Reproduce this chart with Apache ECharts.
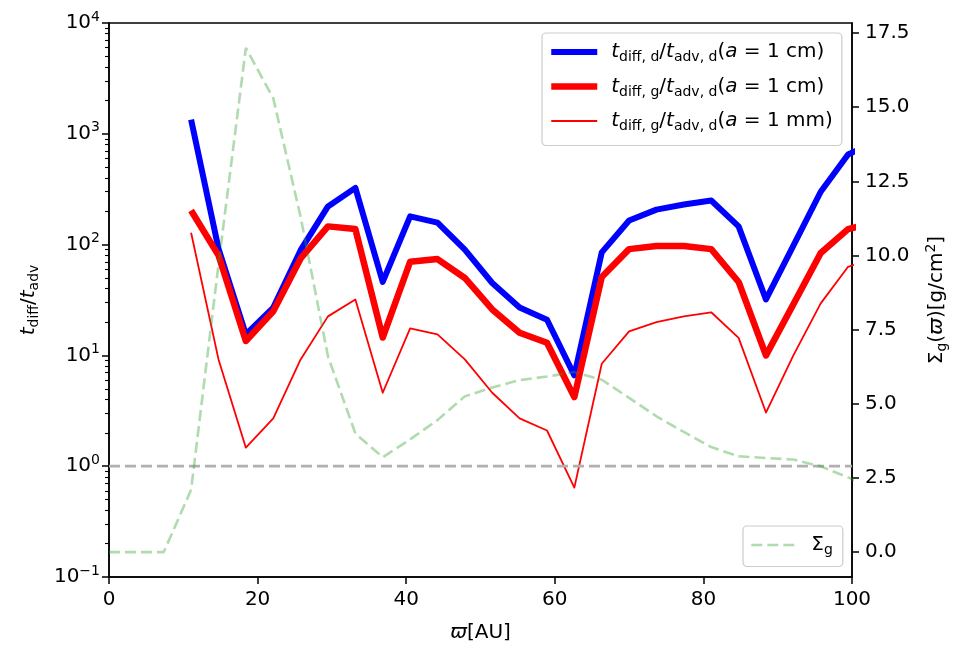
<!DOCTYPE html>
<html>
<head>
<meta charset="utf-8">
<script src="https://cdn.jsdelivr.net/npm/echarts@6/dist/echarts.min.js"></script>
<style>
    html, body { margin: 0; padding: 0; background: #fff; }
    #chart { width: 967px; height: 657px; }
</style>
</head>
<body>
<div id="chart"></div>
<script>
// radial grid [AU]
const radius = [0, 3.68, 7.37, 11.05, 14.74, 18.42, 22.11, 25.79, 29.47, 33.16, 36.84, 40.53, 44.21, 47.89,
    51.58, 55.26, 58.95, 62.63, 66.32, 70.0, 73.68, 77.37, 81.05, 84.74, 88.42, 92.11, 95.79, 99.47, 103.16];

// time-scale ratios start at radius[3]
const ratioDustCm = [1340, 92, 15.5, 27, 89, 221, 325, 46, 180, 158, 90, 45, 27, 21, 6.6,
    85, 165, 207, 230, 250, 146, 32, 98, 300, 650, 850];
const ratioGasCm = [203, 80, 13.5, 25, 75, 146, 138, 14.5, 70, 74, 50, 26, 16, 13, 4.2,
    51, 91, 97, 97, 91, 46, 10, 29, 84, 138, 160];
const ratioGasMm = [128, 9.2, 1.47, 2.7, 9.2, 22.5, 32, 4.6, 17.5, 15.5, 9.2, 4.6, 2.7, 2.1, 0.64,
    8.4, 16.5, 20, 22.5, 24.5, 14.4, 3.05, 10, 29.5, 63, 76];

// gas surface density [g/cm^2]
const sigmaGas = [0, 0, 0, 2.1, 9.7, 17.0, 15.3, 11.3, 6.6, 4.0, 3.2, 3.8, 4.45, 5.25, 5.55, 5.8, 5.92,
    6.07, 5.81, 5.2, 4.58, 4.05, 3.54, 3.23, 3.17, 3.12, 2.89, 2.52, 2.1];

// unity reference line
const unityX = [0, 100];
const unityY = [1, 1];

const xTicks = [0, 20, 40, 60, 80, 100];
const logTicks = [0.1, 1, 10, 100, 1000, 10000];
const logMinorTicks = [];
logTicks.slice(0, -1).forEach((d) => {
    for (let m = 2; m <= 9; m++) logMinorTicks.push(+(d * m).toPrecision(3));
});
const sigmaTicks = [0, 2.5, 5, 7.5, 10, 12.5, 15, 17.5];

const FONT = 'DejaVu Sans';
const SIZE = 20;

const rich = {
    n: { fontFamily: FONT, fontSize: SIZE, color: '#000' },
    it: { fontFamily: FONT, fontSize: SIZE, fontStyle: 'italic', color: '#000' },
    sub: { fontFamily: FONT, fontSize: 14, color: '#000', padding: [11, 0, 0, 0] },
    sup: { fontFamily: FONT, fontSize: 14, color: '#000', padding: [0, 0, 12, 0] },
    gap: { width: 9 },
    gapS: { width: 12 },
};

const legendLabels = {
    dustCm: '{gap|}{it|t}{sub|diff, d}{n|/}{it|t}{sub|adv, d}{n|(}{it|a}{n| = 1 cm)}',
    gasCm: '{gap|}{it|t}{sub|diff, g}{n|/}{it|t}{sub|adv, d}{n|(}{it|a}{n| = 1 cm)}',
    gasMm: '{gap|}{it|t}{sub|diff, g}{n|/}{it|t}{sub|adv, d}{n|(}{it|a}{n| = 1 mm)}',
    sigma: '{gapS|}{n|Σ}{sub|g}',
};

const pairs = (xs, ys) => ys.map((y, i) => [xs[i], y]);
const tRadius = radius.slice(3);

const lineBase = { join: 'round', cap: 'butt' };

const legendBox = {
    backgroundColor: 'rgba(255,255,255,0.8)',
    borderColor: '#cccccc',
    borderWidth: 1.2,
    borderRadius: 4,
    itemStyle: { opacity: 0 },
    selectedMode: false,
    formatter: (name) => legendLabels[name],
    textStyle: { rich },
};

const chartOptions = {
    animation: false,
    backgroundColor: '#fff',
    grid: {
        left: 109,
        right: 115,
        top: 23,
        bottom: 80,
        show: true,
        borderColor: '#000',
        borderWidth: 1.5,
        backgroundColor: 'transparent',
        outerBoundsMode: 'none',
    },
    legend: [
        {
            ...legendBox,
            data: ['dustCm', 'gasCm', 'gasMm'],
            orient: 'vertical',
            left: 542,
            top: 33,
            itemWidth: 46,
            itemHeight: 22,
            itemGap: 12,
            padding: [9, 9, 12, 6],
            lineStyle: { width: 'inherit', opacity: 1 },
        },
        {
            ...legendBox,
            data: ['sigma'],
            left: 743,
            top: 526,
            itemWidth: 43,
            itemHeight: 22,
            padding: [9, 10, 9, 7],
            lineStyle: { width: 'inherit', type: 'inherit', opacity: 1 },
        },
    ],
    xAxis: {
        type: 'value',
        min: 0,
        max: 100,
        interval: 20,
        axisLine: { onZero: false, lineStyle: { color: '#000', width: 1.5 } },
        axisTick: { length: 7, lineStyle: { color: '#000', width: 1.5 } },
        axisLabel: { fontFamily: FONT, fontSize: SIZE, color: '#000', margin: 13 },
        splitLine: { show: false },
        name: '{it|ϖ}{n|[AU]}',
        nameLocation: 'middle',
        nameGap: 46,
        nameTextStyle: { rich },
    },
    yAxis: [
        {
            type: 'log',
            logBase: 10,
            min: 0.1,
            max: 10000,
            position: 'left',
            axisLine: { show: true, lineStyle: { color: '#000', width: 1.5 } },
            axisTick: { customValues: logTicks, length: 7, lineStyle: { color: '#000', width: 1.5 } },
            axisLabel: {
                customValues: logTicks,
                margin: 9,
                formatter: (v) => {
                    const e = Math.round(Math.log10(v));
                    return '{n|10}{sup|' + (e < 0 ? '\u2212' + (-e) : e) + '}';
                },
                rich,
            },
            splitLine: { show: false },
            name: '{it|t}{sub|diff}{n|/}{it|t}{sub|adv}',
            nameLocation: 'middle',
            nameRotate: 90,
            nameGap: 68,
            nameTextStyle: { rich },
        },
        {
            type: 'value',
            min: -0.84,
            max: 17.84,
            position: 'right',
            axisLine: { show: true, lineStyle: { color: '#000', width: 1.5 } },
            axisTick: { customValues: sigmaTicks, length: 7, lineStyle: { color: '#000', width: 1.5 } },
            axisLabel: {
                customValues: sigmaTicks,
                margin: 13,
                fontFamily: FONT,
                fontSize: SIZE,
                color: '#000',
                formatter: (v) => v.toFixed(1),
            },
            splitLine: { show: false },
            name: '{n|Σ}{sub|g}{n|(}{it|ϖ}{n|)[g/cm}{sup|2}{n|]}',
            nameLocation: 'middle',
            nameRotate: 90,
            nameGap: 72,
            nameTextStyle: { rich },
        },
        {
            // minor ticks of the log axis
            type: 'log',
            logBase: 10,
            min: 0.1,
            max: 10000,
            position: 'left',
            axisLine: { show: false },
            axisTick: { customValues: logMinorTicks, length: 4, lineStyle: { color: '#000', width: 1.1 } },
            axisLabel: { show: false },
            splitLine: { show: false },
        },
    ],
    series: [
        {
            name: 'dustCm',
            type: 'line',
            yAxisIndex: 0,
            symbol: 'none',
            color: '#0000ff',
            lineStyle: { ...lineBase, color: '#0000ff', width: 6 },
            data: pairs(tRadius, ratioDustCm),
        },
        {
            name: 'gasCm',
            type: 'line',
            yAxisIndex: 0,
            symbol: 'none',
            color: '#ff0000',
            lineStyle: { ...lineBase, color: '#ff0000', width: 6.5 },
            data: pairs(tRadius, ratioGasCm),
        },
        {
            name: 'gasMm',
            type: 'line',
            yAxisIndex: 0,
            symbol: 'none',
            color: '#ff0000',
            lineStyle: { ...lineBase, color: '#ff0000', width: 1.8 },
            data: pairs(tRadius, ratioGasMm),
        },
        {
            name: 'unity',
            type: 'line',
            yAxisIndex: 0,
            symbol: 'none',
            silent: true,
            lineStyle: { color: '#b0b0b0', width: 2.8, type: [11, 5] },
            data: pairs(unityX, unityY),
        },
        {
            name: 'sigma',
            type: 'line',
            yAxisIndex: 1,
            symbol: 'none',
            color: 'rgba(44,160,44,0.38)',
            lineStyle: { color: 'rgba(44,160,44,0.38)', width: 2.6, type: [11, 5] },
            data: pairs(radius, sigmaGas),
        },
    ],
};

const chart = echarts.init(document.getElementById('chart'), null, { renderer: 'canvas' });
chart.setOption(chartOptions);
</script>
</body>
</html>
